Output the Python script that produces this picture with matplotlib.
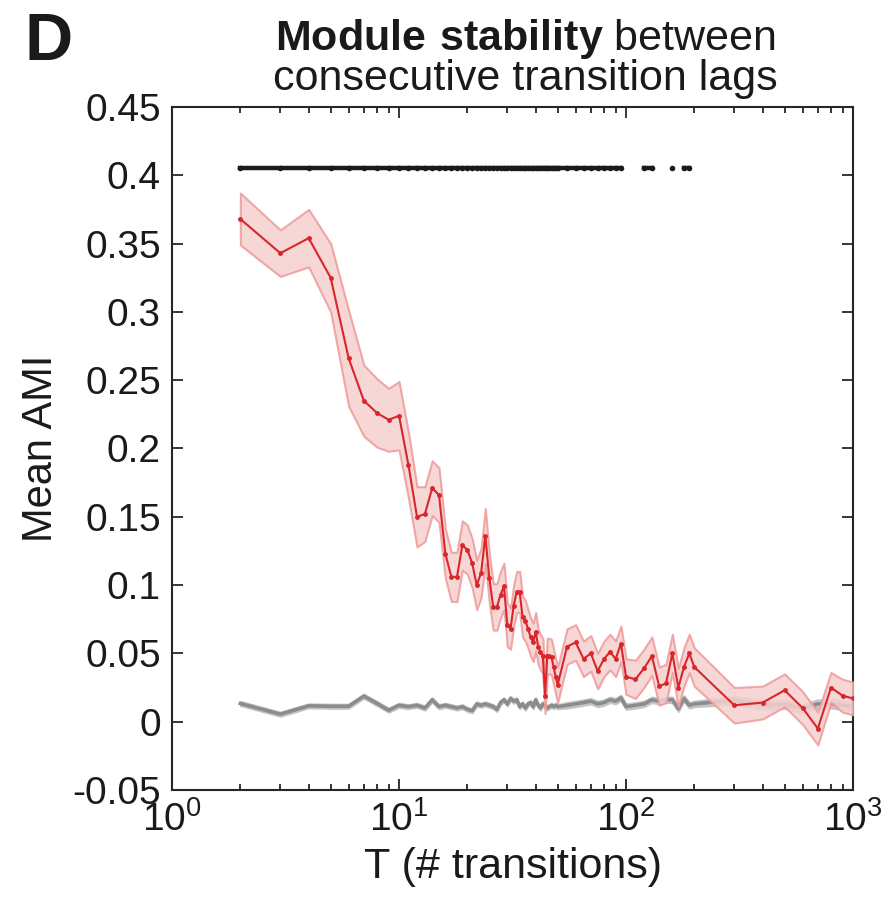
import numpy as np
import matplotlib
matplotlib.use("Agg")
import matplotlib.pyplot as plt
from matplotlib.ticker import FixedLocator, LogLocator, NullFormatter

plt.rcParams['font.family'] = ['Liberation Sans', 'DejaVu Sans']
plt.rcParams['mathtext.fontset'] = 'custom'
plt.rcParams['mathtext.rm'] = 'Liberation Sans'
plt.rcParams['mathtext.bf'] = 'Liberation Sans:bold'

# number of transitions
T = [2, 3, 4, 5, 6, 7, 8, 9, 10, 11, 12, 13, 14, 15, 16, 17, 18, 19, 20,
     21, 22, 23, 24, 25, 26, 27, 28, 29, 30, 31, 32, 33, 34, 35, 36, 37, 38, 39, 40,
     41, 42, 43, 44, 45, 46, 47, 48, 49, 50,
     55, 60, 65, 70, 75, 80, 85, 90, 95, 100,
     110, 120, 130, 140, 150, 160, 170, 180, 190, 200,
     300, 400, 500, 600, 700, 800, 900, 1000]

# observed mean AMI (red)
ami_mean = [0.368, 0.343, 0.354, 0.325, 0.266, 0.235, 0.226, 0.221, 0.224,
            0.188, 0.150, 0.152, 0.171, 0.166, 0.123, 0.106, 0.106, 0.129, 0.126,
            0.116, 0.100, 0.109, 0.136, 0.105, 0.084, 0.084, 0.093, 0.099, 0.071,
            0.068, 0.085, 0.095, 0.095, 0.077, 0.074, 0.068, 0.062, 0.058, 0.066,
            0.055, 0.051, 0.048, 0.019, 0.048, 0.048, 0.047, 0.040, 0.033, 0.027,
            0.055, 0.058, 0.046, 0.050, 0.037, 0.046, 0.051, 0.046, 0.057, 0.033,
            0.031, 0.039, 0.048, 0.026, 0.028, 0.050, 0.025, 0.040, 0.050, 0.040,
            0.012, 0.014, 0.023, 0.010, -0.005, 0.025, 0.019, 0.017]
ami_err = [0.019, 0.017, 0.021, 0.025, 0.035, 0.026, 0.025, 0.023, 0.025,
           0.024, 0.022, 0.020, 0.020, 0.020, 0.018, 0.018, 0.018, 0.018, 0.018,
           0.018, 0.018, 0.018, 0.020, 0.018, 0.017, 0.017, 0.017, 0.017, 0.016,
           0.015, 0.015, 0.015, 0.015, 0.015, 0.015, 0.014, 0.014, 0.014, 0.014,
           0.013, 0.013, 0.013, 0.013, 0.013, 0.013, 0.013, 0.013, 0.013, 0.013,
           0.013, 0.013, 0.013, 0.013, 0.013, 0.013, 0.013, 0.013, 0.013, 0.013,
           0.014, 0.014, 0.014, 0.014, 0.014, 0.014, 0.014, 0.014, 0.014, 0.014,
           0.013, 0.012, 0.012, 0.012, 0.012, 0.011, 0.012, 0.012]

# null model (gray)
null_mean = [0.0133, 0.0055, 0.0116, 0.0113, 0.0113, 0.0187, 0.0133, 0.0084, 0.012,
             0.011, 0.012, 0.010, 0.016, 0.011, 0.012, 0.011, 0.010, 0.011, 0.009,
             0.008, 0.013, 0.012, 0.013, 0.012, 0.011, 0.009, 0.014, 0.016, 0.013,
             0.017, 0.015, 0.016, 0.011, 0.013, 0.010, 0.013, 0.014, 0.011, 0.016,
             0.012, 0.010, 0.013, 0.012, 0.010, 0.011, 0.012, 0.011, 0.012, 0.011,
             0.012, 0.013, 0.014, 0.015, 0.013, 0.014, 0.016, 0.015, 0.0175, 0.011,
             0.012, 0.013, 0.016, 0.015, 0.016, 0.016, 0.0095, 0.017, 0.012, 0.013,
             0.0157, 0.012, 0.0128, 0.0095, 0.013, 0.013, 0.012, 0.011]
null_err = [0.0015] * 49 + [0.002] * 20 + [0.003] * 8

# lags where observed differs significantly from null
sig_T = [t for t in T if t <= 95] + [120, 130, 160, 180, 190]
sig_y = 0.405

red = '#d9262b'
gray = '#8c8c8c'

fig = plt.figure(figsize=(8.96, 9.14), dpi=100)
ax = fig.add_axes([0.192, 0.1357, 0.760, 0.7472])

T_arr = np.array(T)
m = np.array(null_mean)
e = np.array(null_err)
ax.fill_between(T_arr, m - e, m + e, color='#c8c8c8', lw=1.5, edgecolor='#c4c4c4', zorder=2)
ax.plot(T_arr, m, color=gray, lw=2.6, zorder=3)

m = np.array(ami_mean)
e = np.array(ami_err)
ax.fill_between(T_arr, m - e, m + e, facecolor='#f6cfcf', edgecolor='#ee9a9a', lw=1.5, zorder=4, alpha=0.85)
ax.plot(T_arr, m, color=red, lw=1.5, marker='.', ms=5, zorder=5)

# significance bar: connected runs, broken where not significant
sig_line = np.array([sig_y if t in sig_T else np.nan for t in T])
ax.plot(T_arr, sig_line, color='#1a1a1a', lw=3.2, marker='.', ms=6, zorder=6)

ax.set_xscale('log')
ax.set_xlim(1, 1000)
ax.set_ylim(-0.05, 0.45)
ax.set_xticks([1, 10, 100, 1000])
ax.set_xticklabels([r'$10^0$', r'$10^1$', r'$10^2$', r'$10^3$'])
ax.xaxis.set_minor_locator(LogLocator(base=10, subs=np.arange(2, 10)))
ax.xaxis.set_minor_formatter(NullFormatter())
yt = [-0.05, 0, 0.05, 0.1, 0.15, 0.2, 0.25, 0.3, 0.35, 0.4, 0.45]
ax.yaxis.set_major_locator(FixedLocator(yt))
ax.set_yticklabels(['%g' % v for v in yt])

ax.tick_params(which='both', direction='in', top=True, right=True,
               labelsize=28, width=1.3, colors='#262626', labelcolor='#1a1a1a')
ax.tick_params(which='major', length=8, pad=8)
ax.tick_params(which='minor', length=4.5)
for s in ax.spines.values():
    s.set_linewidth(1.5)
    s.set_color('#262626')

ax.set_xlabel('T (# transitions)', fontsize=31, labelpad=6, color='#1a1a1a')
ax.set_ylabel('Mean AMI', fontsize=30, labelpad=8, color='#1a1a1a')

fig.text(0.586, 0.9453, r'$\bf{Module\ stability}$ between', ha='center', va='baseline',
         fontsize=31, color='#1a1a1a')
fig.text(0.586, 0.9015, 'consecutive transition lags', ha='center', va='baseline',
         fontsize=31, color='#1a1a1a')
fig.text(0.027, 0.934, 'D', fontsize=48, fontweight='bold', ha='left', va='baseline',
         color='#1a1a1a')

fig.savefig('out.png', dpi=100)
